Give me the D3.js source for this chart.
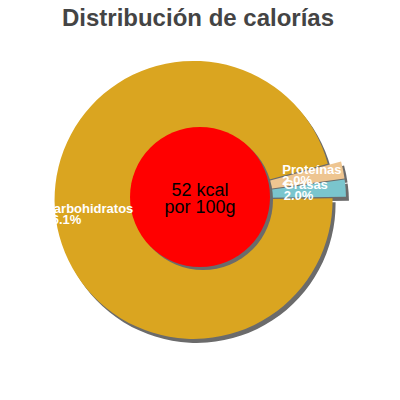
<!DOCTYPE html>
<html>
<head>
<meta charset="utf-8">
<script src="https://cdn.jsdelivr.net/npm/d3@7"></script>
<style>
  body { margin: 0; background: #fff; }
  svg { display: block; font-family: "Liberation Sans", Arial, sans-serif; }
</style>
</head>
<body>
<script>
var width = 400,
    height = 400

var title = 'Distribución de calorías'
var categories = ['Carbohidratos', 'Proteínas', 'Grasas']
var percents = [96.1, 2.0, 2.0]
var colors = ['#daa520', '#eec591', '#7ac5cd']
var centerLines = ['52 kcal', 'por 100g']

var cx = 200, cy = 199, radius = 139, hole = 70
var rad = Math.PI / 180
var start = 89.3 * rad

var data = categories.map(function(c, i){ return {name: c, value: percents[i], color: colors[i]} })

var pie = d3.pie()
    .sort(null)
    .value(function(d){ return d.value })
    .startAngle(start)
    .endAngle(start + 2 * Math.PI)

var arc = d3.arc().innerRadius(0).outerRadius(radius)

var slices = pie(data)

function mid(d){ return (d.startAngle + d.endAngle) / 2 }
function explode(d){ return d.data.value > 50 ? 6.5 : 7 }
function offset(d, r){
  var a = mid(d)
  return [cx + r * Math.sin(a), cy - r * Math.cos(a)]
}

var svg = d3.select('body').append('svg')
    .attr('width', width)
    .attr('height', height)

svg.append('text')
    .attr('x', 198)
    .attr('y', 26)
    .attr('text-anchor', 'middle')
    .attr('font-size', 24)
    .attr('font-weight', 'bold')
    .attr('fill', '#444')
    .text(title)

// shadows first
svg.selectAll('path.shadow').data(slices).enter().append('path')
    .attr('class', 'shadow')
    .attr('d', arc)
    .attr('fill', '#6b6b6b')
    .attr('transform', function(d){
      var p = offset(d, explode(d))
      return 'translate(' + (p[0] + 3) + ',' + (p[1] + 4) + ')'
    })

svg.selectAll('path.slice').data(slices).enter().append('path')
    .attr('class', 'slice')
    .attr('d', arc)
    .attr('fill', function(d){ return d.data.color })
    .attr('transform', function(d){
      var p = offset(d, explode(d))
      return 'translate(' + p[0] + ',' + p[1] + ')'
    })

// centre disc
svg.append('circle')
    .attr('cx', cx + 3).attr('cy', cy - 2 + 3).attr('r', hole)
    .attr('fill', '#6b6b6b')
svg.append('circle')
    .attr('cx', cx).attr('cy', cy - 2).attr('r', hole)
    .attr('fill', '#ff0000')

svg.append('text')
    .attr('x', cx)
    .attr('y', 196)
    .attr('text-anchor', 'middle')
    .attr('font-size', 18)
    .attr('fill', '#000')
    .selectAll('tspan').data(centerLines).enter().append('tspan')
    .attr('x', cx)
    .attr('dy', function(d, i){ return i ? 17 : 0 })
    .text(function(d){ return d })

// labels, small ones nudged down so they don't sit on each other
var lastY = -Infinity
svg.selectAll('text.label').data(slices).enter().append('text')
    .attr('class', 'label')
    .attr('font-size', 13)
    .attr('font-weight', 'bold')
    .attr('fill', '#fff')
    .each(function(d){
      var big = d.data.value > 50
      var p = offset(d, big ? 157 : 84)
      var y = p[1] + 3
      if (!big) {
        y = Math.max(y, lastY + 15)
        lastY = y
      }
      var t = d3.select(this)
      t.append('tspan').attr('x', p[0]).attr('y', y - 11).text(d.data.name)
      t.append('tspan').attr('x', p[0]).attr('y', y).text(d.data.value.toFixed(1) + '%')
    })
</script>
</body>
</html>
